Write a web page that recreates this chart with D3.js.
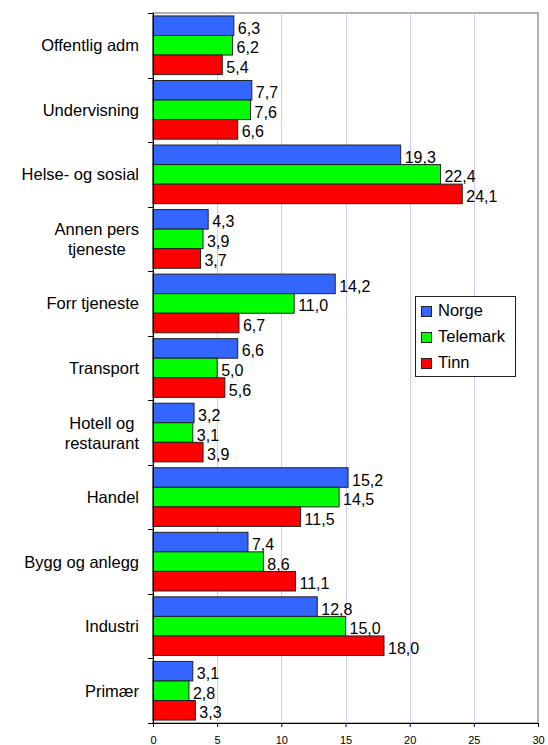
<!DOCTYPE html>
<html>
<head>
<meta charset="utf-8">
<script src="https://cdn.jsdelivr.net/npm/d3@7"></script>
<style>
  body { margin: 0; background: #fff; }
  text { font-family: "Liberation Sans", Arial, sans-serif; fill: #000; }
</style>
</head>
<body>
<div class="canvas"></div>
<script>
// Data
const categories = ["Offentlig adm", "Undervisning", "Helse- og sosial", "Annen pers\ntjeneste",
  "Forr tjeneste", "Transport", "Hotell og\nrestaurant", "Handel", "Bygg og anlegg", "Industri", "Primær"];
const seriesNames = ["Norge", "Telemark", "Tinn"];
const norge    = [6.3, 7.7, 19.3, 4.3, 14.2, 6.6, 3.2, 15.2, 7.4, 12.8, 3.1];
const telemark = [6.2, 7.6, 22.4, 3.9, 11.0, 5.0, 3.1, 14.5, 8.6, 15.0, 2.8];
const tinn     = [5.4, 6.6, 24.1, 3.7, 6.7, 5.6, 3.9, 11.5, 11.1, 18.0, 3.3];
const xTicks = [0, 5, 10, 15, 20, 25, 30];

const seriesValues = [norge, telemark, tinn];
const colors = ["#3366ff", "#00ff00", "#ff0000"];

// Setting constants
const wWidth = 548;
const wHeight = 745;
const plot = {left: 153, right: 538, top: 13, bottom: 723};

const svg = d3.select('.canvas')
  .append('svg')
  .attr('width', wWidth)
  .attr('height', wHeight);

// Scales
const x = d3.scaleLinear().domain([0, 30]).range([plot.left, plot.right]);
const y = d3.scaleBand().domain(categories).range([plot.top, plot.bottom]).padding(0);
const ySub = d3.scaleBand().domain(seriesNames).range([0, y.bandwidth()])
  .paddingInner(0).paddingOuter(0.15);

// Plot area frame (gray) and gridlines
svg.append('rect')
  .attr('x', plot.left).attr('y', plot.top)
  .attr('width', plot.right - plot.left).attr('height', plot.bottom - plot.top)
  .attr('fill', '#fff').attr('stroke', '#999').attr('stroke-width', 1.5);

svg.append('g').selectAll('line')
  .data(xTicks.filter(t => t > 0 && t < 30))
  .join('line')
  .attr('x1', d => Math.round(x(d)) + 0.5).attr('x2', d => Math.round(x(d)) + 0.5)
  .attr('y1', plot.top).attr('y2', plot.bottom)
  .attr('stroke', '#ccccff').attr('stroke-width', 1);

// Bars
const rows = categories.map((c, i) => ({cat: c, vals: seriesNames.map((s, j) => ({s, v: seriesValues[j][i], j}))}));
const fmt = d3.format('.1f');

const groups = svg.append('g').selectAll('g')
  .data(rows)
  .join('g')
  .attr('transform', d => `translate(0, ${y(d.cat)})`);

groups.selectAll('rect')
  .data(d => d.vals)
  .join('rect')
  .attr('x', x(0))
  .attr('y', d => ySub(d.s))
  .attr('width', d => x(d.v) - x(0))
  .attr('height', ySub.bandwidth())
  .attr('fill', d => colors[d.j])
  .attr('stroke', '#222')
  .attr('stroke-width', 1);

groups.selectAll('text')
  .data(d => d.vals)
  .join('text')
  .attr('x', d => x(d.v) + 4)
  .attr('y', d => ySub(d.s) + ySub.bandwidth() / 2 + 8)
  .style('font-size', '16px')
  .text(d => fmt(d.v).replace('.', ','));

// Category axis (left)
svg.append('line')
  .attr('x1', plot.left + 0.5).attr('x2', plot.left + 0.5)
  .attr('y1', plot.top).attr('y2', plot.bottom)
  .attr('stroke', '#000');
svg.append('g').selectAll('line')
  .data(categories.map(c => y(c)).concat([plot.bottom]))
  .join('line')
  .attr('x1', plot.left - 5).attr('x2', plot.left)
  .attr('y1', d => Math.round(d) + 0.5).attr('y2', d => Math.round(d) + 0.5)
  .attr('stroke', '#000');

// Category labels, lines centered in a block right-aligned to the axis
const labelRight = 139;
categories.forEach(c => {
  const lines = c.split('\n');
  const g = svg.append('g');
  const texts = lines.map((ln, k) => g.append('text')
    .style('font-size', '16.5px')
    .attr('y', y(c) + y.bandwidth() / 2 + 6 + (k - (lines.length - 1) / 2) * 20)
    .text(ln));
  const maxW = d3.max(texts, t => t.node().getComputedTextLength());
  texts.forEach(t => t.attr('text-anchor', 'middle').attr('x', labelRight - maxW / 2));
});

// Value axis (bottom)
const xAxis = d3.axisBottom(x).tickValues(xTicks).tickSize(4).tickPadding(9).tickSizeOuter(0);
const xAxisGroup = svg.append('g')
  .attr('transform', `translate(0, ${plot.bottom})`)
  .call(xAxis);
xAxisGroup.select('.domain').attr('stroke', '#000');
xAxisGroup.selectAll('line').attr('stroke', '#000');
xAxisGroup.selectAll('text')
  .style('font-size', '11px')
  .style('font-family', '"Liberation Sans", Arial, sans-serif')
  .attr('fill', '#000');

// Legend
const legend = svg.append('g').attr('transform', 'translate(415, 296)');
legend.append('rect')
  .attr('x', 0.5).attr('y', 0.5).attr('width', 100).attr('height', 80)
  .attr('fill', '#fff').attr('stroke', '#222');
const items = legend.selectAll('g.item')
  .data(seriesNames)
  .join('g')
  .attr('class', 'item')
  .attr('transform', (d, i) => `translate(0, ${20 + i * 26})`);
items.append('rect')
  .attr('x', 6.5).attr('y', -9.5).attr('width', 10).attr('height', 10)
  .attr('fill', (d, i) => colors[i]).attr('stroke', '#222');
items.append('text')
  .attr('x', 23).attr('y', 0)
  .style('font-size', '16.5px')
  .text(d => d);
</script>
</body>
</html>
